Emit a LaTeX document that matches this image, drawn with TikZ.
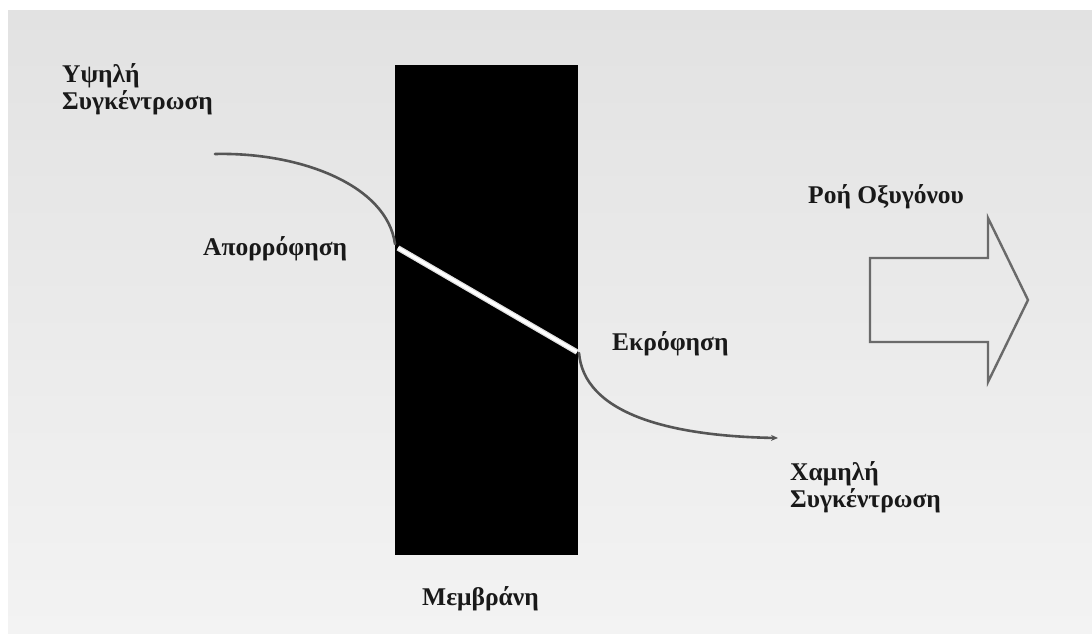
\documentclass[tikz,border=0pt]{standalone}
\usepackage{fontspec}
\setmainfont{Liberation Serif}
\usetikzlibrary{arrows.meta}
\definecolor{bgtop}{HTML}{E2E2E2}
\definecolor{bgbot}{HTML}{F3F3F3}
\definecolor{curvegrey}{HTML}{555555}
\definecolor{arrowgrey}{HTML}{6A6A6A}
\tikzset{
  lbl/.style={anchor=base west, inner sep=0pt, font=\fontsize{25.5}{30}\selectfont\bfseries, text=black!90},
  flow/.style={draw=curvegrey, line width=2.6pt, line cap=round},
  blockarrow/.style={draw=arrowgrey, line width=2.4pt, line join=miter, fill=none}
}
\begin{document}
\begin{tikzpicture}[x=1pt,y=-1pt]
\useasboundingbox (0,0) rectangle (1092,634);
\fill[white] (0,0) rectangle (1092,634);
\shade[top color=bgtop, bottom color=bgbot] (8,11) rectangle (1092,634);
% membrane
\node[draw=none, fill=black, minimum width=183pt, minimum height=490pt, inner sep=0pt, anchor=north west] (mem) at (395,65) {};
\coordinate (inA) at (395,244);
\coordinate (inB) at (398,248);
\coordinate (outB) at (577,352);
\coordinate (outA) at (579,353);
% white diffusion path inside membrane
\draw[line width=5.5pt, white!75!gray] (inB) -- (outB);
\draw[line width=3pt, white] (inB) -- (outB);
% labels
\node[lbl] (hi1) at (62,82) {Υψηλή};
\node[lbl] (hi2) at (62,110) {Συγκέντρωση};
\node[lbl] (abs) at (203,255) {Απορρόφηση};
\node[lbl] (des) at (612,350) {Εκρόφηση};
\node[lbl] (lo1) at (790,480) {Χαμηλή};
\node[lbl] (lo2) at (790,507) {Συγκέντρωση};
\node[lbl] (flowlbl) at (808,203) {Ροή Οξυγόνου};
\node[lbl] (memlbl) at (422,605) {Μεμβράνη};
% curves
\coordinate (start) at (215,154);
\coordinate (endp) at (778,438);
\draw[flow] (start) .. controls (300,152) and (387,185) .. (inA);
\draw[flow, -{Stealth[length=7pt,width=6pt]}] (outA) .. controls (584,412) and (665,436) .. (endp);
% block arrow
\draw[blockarrow] (870,258) -- (988,258) -- (988,218) -- (1028,300) -- (988,382) -- (988,342) -- (870,342) -- cycle;
\end{tikzpicture}
\end{document}
